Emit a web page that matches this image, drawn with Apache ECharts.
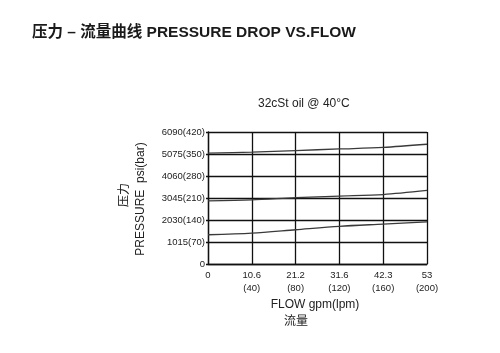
<!DOCTYPE html>
<html>
<head>
<meta charset="UTF-8">
<title>压力 – 流量曲线</title>
<script type="text/javascript" src="https://cdn.jsdelivr.net/npm/echarts@6/dist/echarts.min.js"></script>
<style>
  body{margin:0;background:#fff}
</style>
</head>
<body>
<div id="main" style="width:500px;height:353px"></div>
<script type="text/javascript">
// flow in lpm, pressure in bar
var flowLpm = [0, 40, 80, 120, 160, 200];
var curveHigh = [353, 356, 361, 366, 371, 381];
var curveMid = [201, 204, 211, 216, 221, 234];
var curveLow = [93, 98, 109, 120, 127, 134];

var xLabels = {0: '0', 40: '10.6\n(40)', 80: '21.2\n(80)', 120: '31.6\n(120)', 160: '42.3\n(160)', 200: '53\n(200)'};
var yLabels = {0: '0', 70: '1015(70)', 140: '2030(140)', 210: '3045(210)', 280: '4060(280)', 350: '5075(350)', 420: '6090(420)'};

var font = "'Liberation Sans', 'Noto Sans CJK SC', sans-serif";

function pairs(ys) {
	return flowLpm.map(function (x, i) { return [x, ys[i]]; });
}

var myEcharts = echarts.init(document.getElementById('main'));

var lineStyle = {color: '#3a3a3a', width: 1.3};

var option = {
	animation: false,
	backgroundColor: '#fff',
	title: [
		{
			text: '压力 – 流量曲线 PRESSURE DROP VS.FLOW',
			left: 32, top: 25, padding: 0,
			textStyle: {fontFamily: font, fontSize: 15.5, fontWeight: 'bold', color: '#1a1a1a'}
		},
		{
			text: '32cSt oil @ 40°C',
			left: 258, top: 98, padding: 0,
			textStyle: {fontFamily: font, fontSize: 12, fontWeight: 'normal', color: '#222'}
		}
	],
	grid: {left: 208, right: 73, top: 132, bottom: 89},
	xAxis: {
		type: 'value', min: 0, max: 200, interval: 40,
		axisLine: {show: true, lineStyle: {color: '#111', width: 1.3}},
		axisTick: {show: false},
		splitLine: {show: true, lineStyle: {color: '#111', width: 1.3}},
		axisLabel: {
			fontFamily: font, fontSize: 9.5, color: '#222', lineHeight: 13, margin: 5,
			formatter: function (v) { return xLabels[v]; }
		}
	},
	yAxis: {
		type: 'value', min: 0, max: 420, interval: 70,
		axisLine: {show: true, lineStyle: {color: '#111', width: 1.3}},
		axisTick: {show: true, length: 2, lineStyle: {color: '#111', width: 1.3}},
		splitLine: {show: true, lineStyle: {color: '#111', width: 1.3}},
		axisLabel: {
			fontFamily: font, fontSize: 9.5, color: '#222', margin: 3,
			formatter: function (v) { return yLabels[v]; }
		}
	},
	graphic: [
		{type: 'text', x: 125, y: 195, rotation: Math.PI / 2,
			style: {text: '压力', font: '12px ' + font, fill: '#222', align: 'center', verticalAlign: 'middle'}},
		{type: 'text', x: 141, y: 199, rotation: Math.PI / 2,
			style: {text: 'PRESSURE  psi(bar)', font: '12px ' + font, fill: '#222', align: 'center', verticalAlign: 'middle'}},
		{type: 'text', x: 315, y: 305,
			style: {text: 'FLOW gpm(lpm)', font: '12px ' + font, fill: '#222', align: 'center', verticalAlign: 'middle'}},
		{type: 'text', x: 296, y: 322,
			style: {text: '流量', font: '12px ' + font, fill: '#222', align: 'center', verticalAlign: 'middle'}}
	],
	series: [
		{name: 'high', type: 'line', data: pairs(curveHigh), smooth: 0.3, symbol: 'none', lineStyle: lineStyle},
		{name: 'mid', type: 'line', data: pairs(curveMid), smooth: 0.3, symbol: 'none', lineStyle: lineStyle},
		{name: 'low', type: 'line', data: pairs(curveLow), smooth: 0.3, symbol: 'none', lineStyle: lineStyle}
	]
};

myEcharts.setOption(option);
</script>
</body>
</html>
